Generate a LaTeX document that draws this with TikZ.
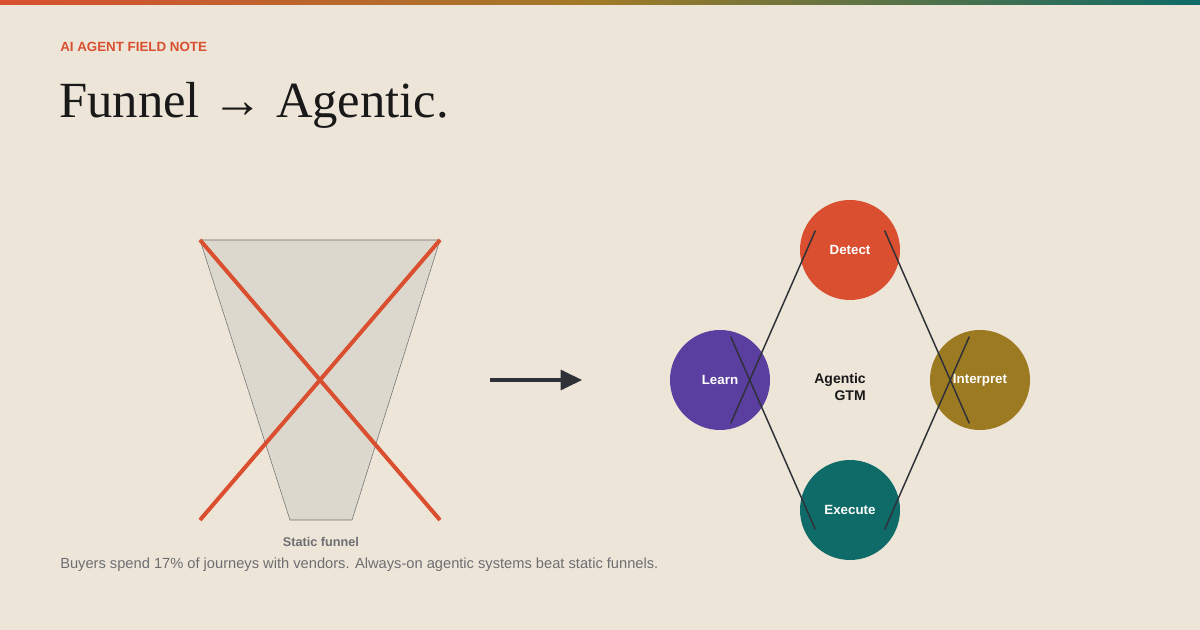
\documentclass[tikz,border=0pt]{standalone}
\usepackage{fontspec}
\setmainfont{Liberation Sans}
\newfontfamily\titlefont{Liberation Serif}
\usetikzlibrary{arrows.meta}
\definecolor{bg}{HTML}{EDE5D8}
\definecolor{cred}{HTML}{D94F30}
\definecolor{colive}{HTML}{9C7A22}
\definecolor{cteal}{HTML}{0E6B68}
\definecolor{cpurple}{HTML}{5B3FA0}
\definecolor{cdark}{HTML}{2E3138}
\definecolor{cgray}{HTML}{6E6E72}
\definecolor{cfunnel}{HTML}{DCD8CD}
\definecolor{barmid}{HTML}{A07A28}
\tikzset{
  stage/.style={circle,minimum size=75pt,inner sep=0pt,text=white,font=\bfseries\fontsize{10}{12}\selectfont},
  link/.style={draw=cdark,line width=1.1pt,shorten <=-5pt,shorten >=-5pt},
  cross/.style={draw=cred,line width=3pt}
}
\begin{document}
\begin{tikzpicture}[x=0.75pt,y=-0.75pt]
\fill[bg] (0,0) rectangle (1200,630);
\useasboundingbox (0,0) rectangle (1200,630);
\shade[left color=cred,right color=cteal,middle color=barmid] (0,0) rectangle (1200,5);
\node[anchor=base west,inner sep=0pt,text=cred,font=\bfseries\fontsize{10}{12}\selectfont] (kicker) at (60,52) {AI AGENT FIELD NOTE};
\node[anchor=base west,inner sep=0pt,text=black!90,font=\titlefont\fontsize{38}{44}\selectfont] (title) at (59,118) {Funnel → Agentic.};
% funnel
\draw[fill=cfunnel,draw=cgray,line width=0.4pt] (200,240) -- (440,240) -- (352,520) -- (290,520) -- cycle;
\coordinate (c1) at (200,240); \coordinate (c2) at (440,520);
\coordinate (c3) at (440,240); \coordinate (c4) at (200,520);
\draw[cross] (c1) -- (c2);
\draw[cross] (c3) -- (c4);
\node[anchor=base,inner sep=0pt,text=cgray,font=\bfseries\fontsize{9.5}{11}\selectfont] (flabel) at (321,547) {Static funnel};
\node[anchor=base west,inner sep=0pt,text=cgray,font=\fontsize{11}{13}\selectfont] (caption) at (60,569) {Buyers spend 17\% of journeys with vendors. Always-on agentic systems beat static funnels.};
% arrow
\coordinate (a1) at (490,380); \coordinate (a2) at (582,380);
\draw[cdark,line width=2.5pt,-{Triangle[length=16pt,width=15pt]}] (a1) -- (a2);
% cycle
\node[stage,fill=cred] (detect) at (850,250) {Detect};
\node[stage,fill=colive] (interp) at (980,380) {Interpret};
\node[stage,fill=cteal] (exec) at (850,510) {Execute};
\node[stage,fill=cpurple] (learn) at (720,380) {Learn};
\node[align=right,inner sep=0pt,text=black!90,font=\bfseries\fontsize{10.5}{13}\selectfont] (center) at (840,387) {Agentic\\GTM};
\draw[link] ([shift={(-28pt,10pt)}]detect.center) ++(0,0) -- ([shift={(10pt,-28pt)}]learn.center);
\draw[link] ([shift={(28pt,10pt)}]detect.center) -- ([shift={(-10pt,-28pt)}]interp.center);
\draw[link] ([shift={(-10pt,28pt)}]interp.center) -- ([shift={(28pt,-10pt)}]exec.center);
\draw[link] ([shift={(-28pt,-10pt)}]exec.center) -- ([shift={(10pt,28pt)}]learn.center);
\end{tikzpicture}
\end{document}
